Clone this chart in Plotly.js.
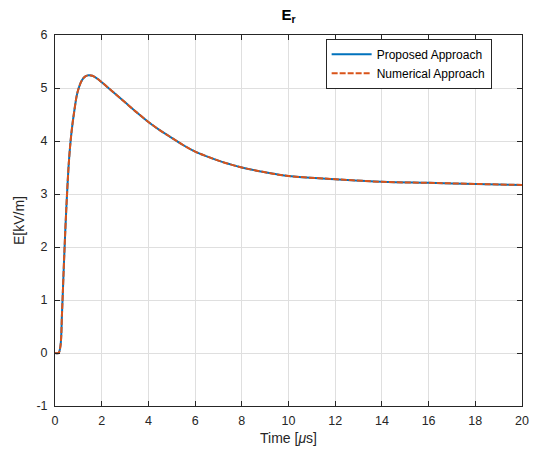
<!DOCTYPE html>
<html>
<head>
<meta charset="utf-8">
<script src="https://cdn.plot.ly/plotly-3.0.1.min.js"></script>
<style>html,body{margin:0;padding:0;background:#fff;}#chart{width:542px;height:455px;}</style>
</head>
<body>
<div id="chart"></div>
<script>
var timeUs = [0, 0.15, 0.23, 0.30, 0.37, 0.44, 0.51, 0.60, 0.70, 0.83, 0.97, 1.16, 1.30, 1.44, 1.60, 1.80, 2.0, 2.5, 3.0, 3.5, 4.0, 4.5, 5.0, 5.5, 6.0, 6.5, 7.0, 7.5, 8.0, 9.0, 10.0, 12.0, 14.0, 16.0, 18.0, 20.0];
var proposedE = [0, 0, 0.12, 0.75, 1.55, 2.30, 2.95, 3.64, 4.14, 4.58, 4.93, 5.15, 5.22, 5.24, 5.23, 5.18, 5.11, 4.92, 4.73, 4.54, 4.36, 4.20, 4.06, 3.92, 3.80, 3.71, 3.63, 3.56, 3.50, 3.41, 3.34, 3.28, 3.23, 3.21, 3.19, 3.17];
var numericalE = [0, 0, 0.12, 0.75, 1.55, 2.30, 2.95, 3.64, 4.14, 4.58, 4.93, 5.15, 5.22, 5.24, 5.23, 5.18, 5.11, 4.92, 4.73, 4.54, 4.36, 4.20, 4.06, 3.92, 3.80, 3.71, 3.63, 3.56, 3.50, 3.41, 3.34, 3.28, 3.23, 3.21, 3.19, 3.17];
var xTicks = [0, 2, 4, 6, 8, 10, 12, 14, 16, 18, 20];
var yTicks = [-1, 0, 1, 2, 3, 4, 5, 6];
var yTickLabels = ['-1', '0', '1', '2', '3', '4', '5', '6'];

var font = 'Liberation Sans, Arial, Helvetica, sans-serif';
var traces = [
  {x: timeUs, y: proposedE, name: 'Proposed Approach', mode: 'lines',
   line: {color: '#0072BD', width: 2, shape: 'spline', smoothing: 1}},
  {x: timeUs, y: numericalE, name: 'Numerical Approach', mode: 'lines',
   line: {color: '#D95319', width: 2, dash: '6px,2px', shape: 'spline', smoothing: 1}}
];
var axisCommon = {
  showline: true, linecolor: '#262626', linewidth: 1, mirror: 'ticks',
  ticks: 'inside', ticklen: 5, tickcolor: '#262626',
  showgrid: true, gridcolor: '#dfdfdf', gridwidth: 1, zeroline: false,
  tickfont: {family: font, size: 12.5, color: '#262626'}
};
var layout = {
  width: 542, height: 455,
  margin: {l: 55, r: 20, t: 35, b: 49},
  paper_bgcolor: '#fff', plot_bgcolor: '#fff',
  title: {text: '<b>E<sub>r</sub></b>', font: {family: font, size: 15, color: '#000'},
          x: 0.5, xref: 'paper', y: 1 - 15/455, yanchor: 'middle'},
  xaxis: Object.assign({}, axisCommon, {range: [0, 20], tickvals: xTicks, ticklabelstandoff: 3,
    title: {text: 'Time [<i>μ</i>s]', font: {family: font, size: 14, color: '#262626'}, standoff: 6}}),
  yaxis: Object.assign({}, axisCommon, {range: [-1, 6], tickvals: yTicks, ticktext: yTickLabels, ticklabelstandoff: 4,
    title: {text: 'E[kV/m]', font: {family: font, size: 14, color: '#262626'}, standoff: 8}}),
  showlegend: true,
  legend: {x: 0.935, xanchor: 'right', y: 0.99, yanchor: 'top',
    bgcolor: '#fff', bordercolor: '#262626', borderwidth: 1,
    font: {family: font, size: 12, color: '#000'}, itemwidth: 40,
    tracegroupgap: 0}
};
Plotly.newPlot('chart', traces, layout, {displayModeBar: false, staticPlot: true});
</script>
</body>
</html>
